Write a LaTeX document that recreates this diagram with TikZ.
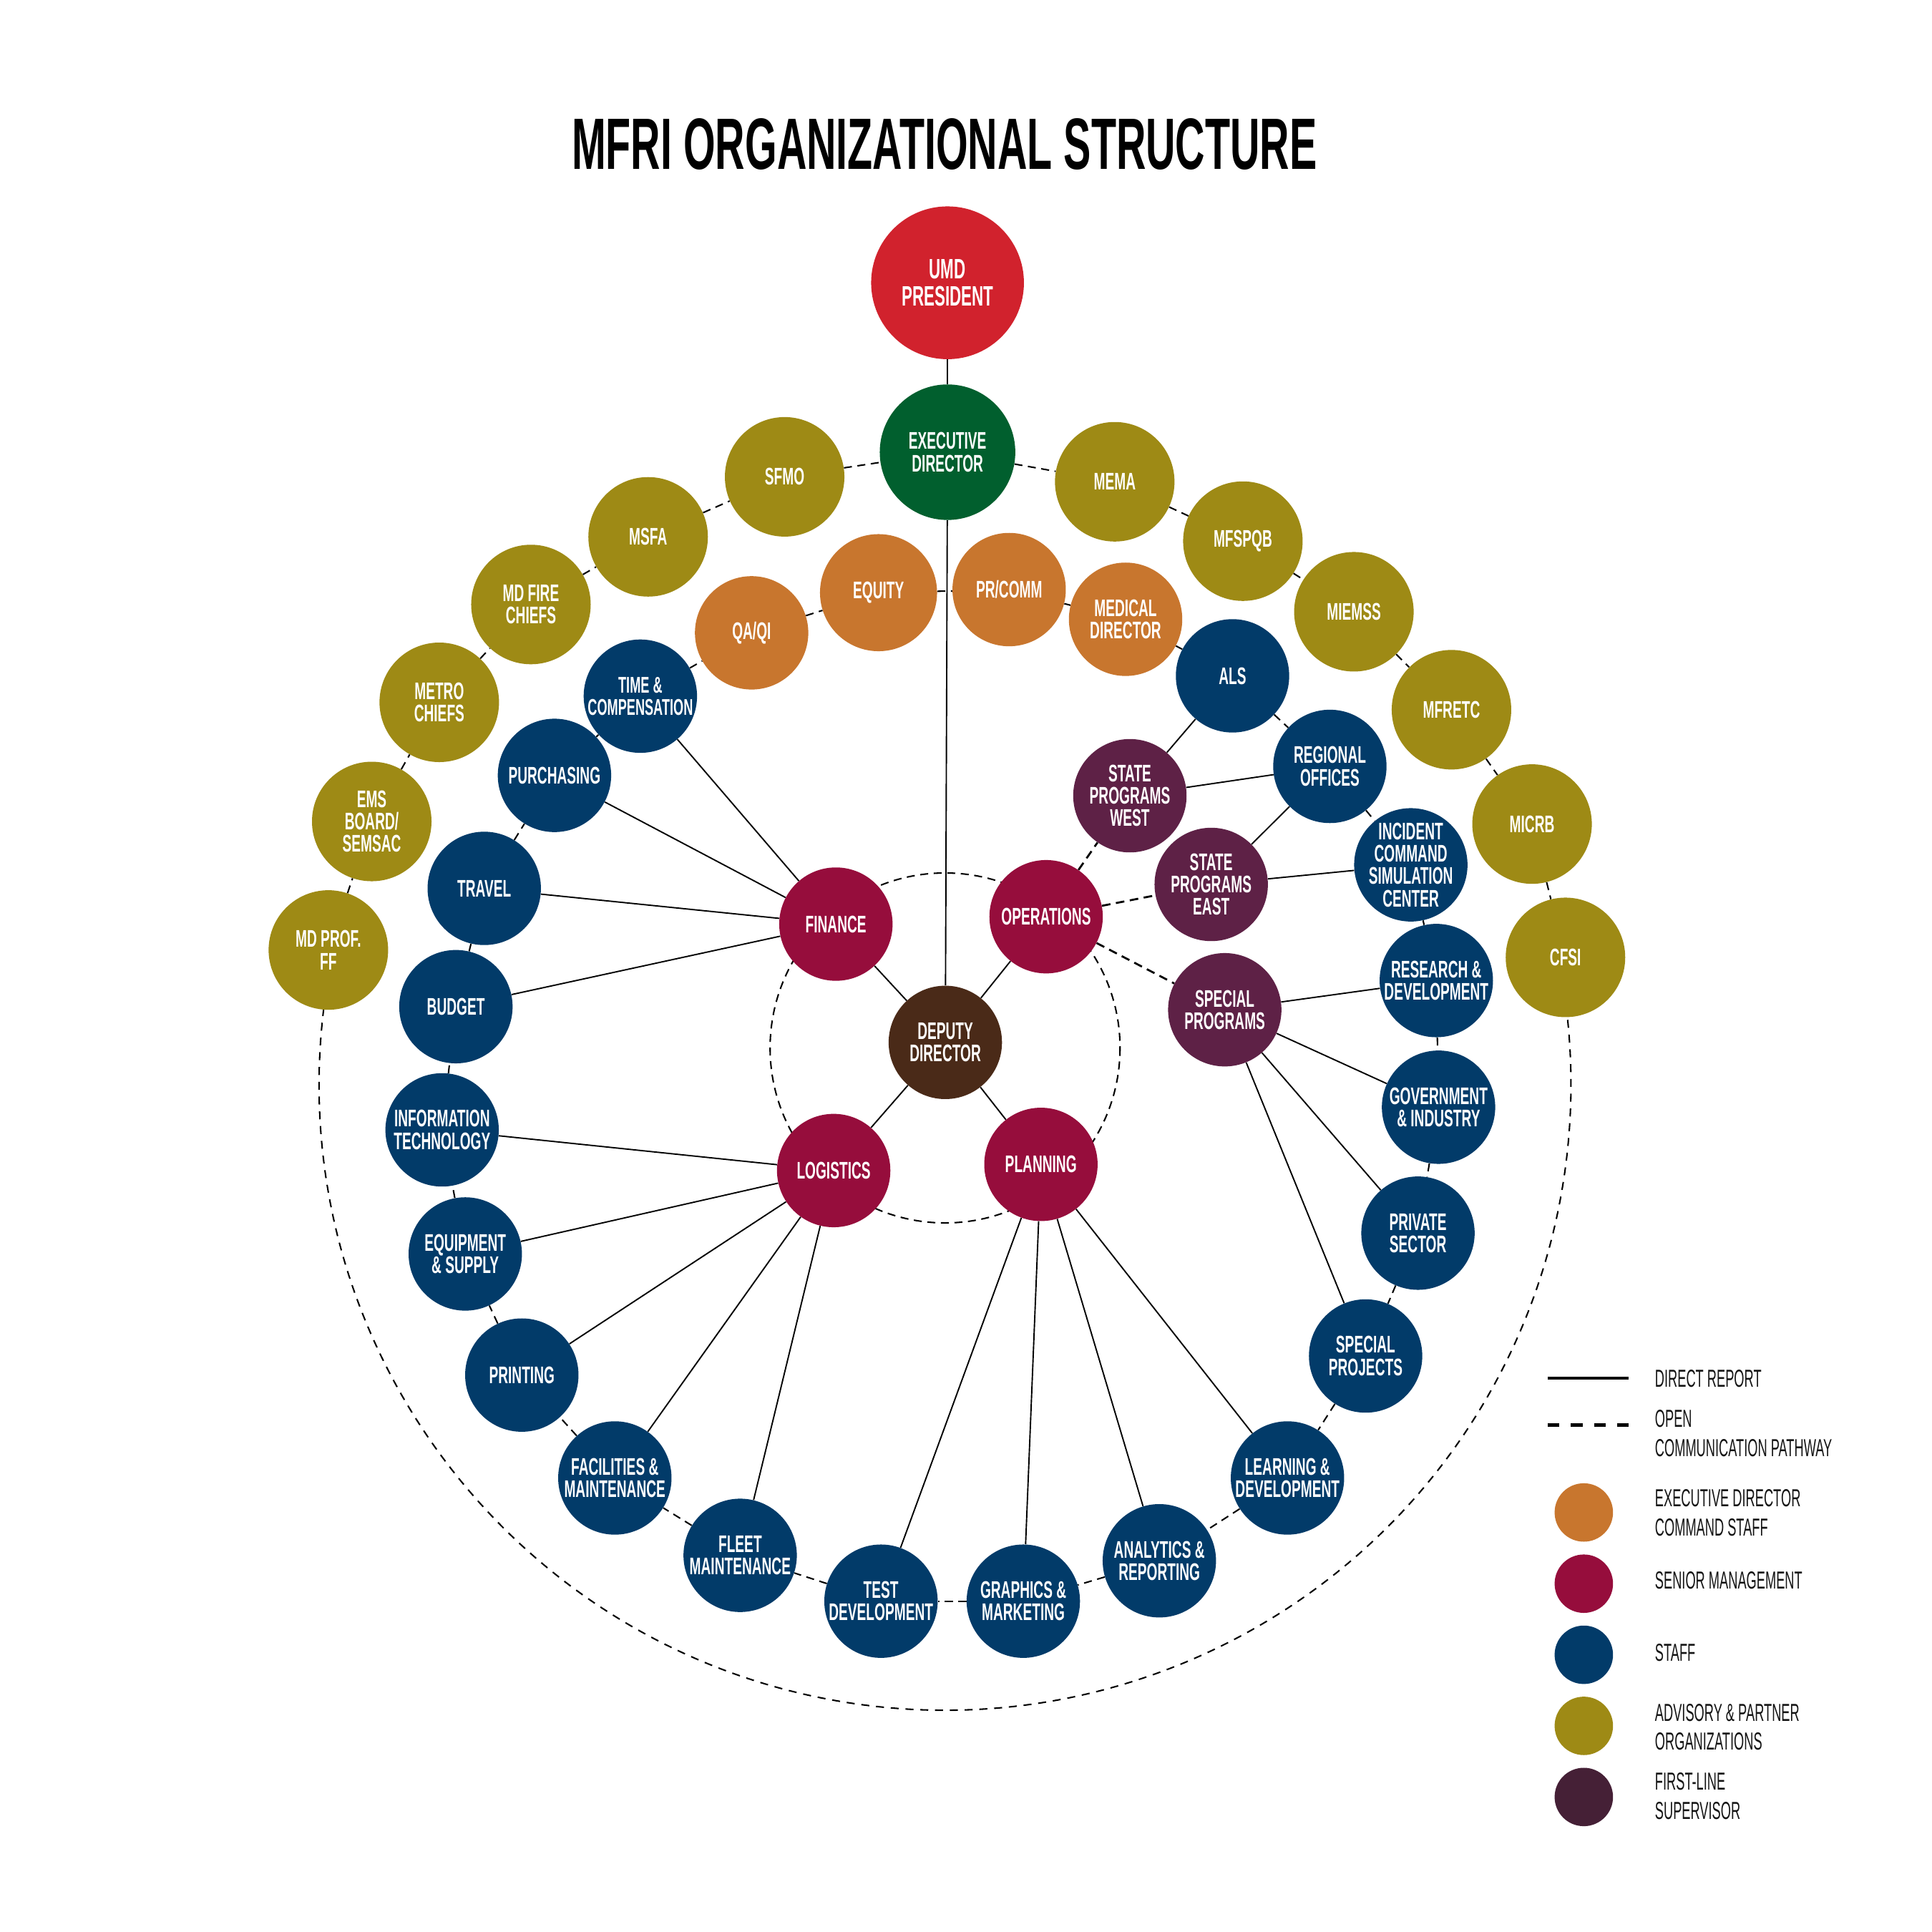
\documentclass[tikz,border=0pt]{standalone}
\usepackage{fontspec}
\usetikzlibrary{backgrounds}
\newfontfamily\nf{Liberation Sans}[FakeStretch=0.57]
\newfontfamily\tf{Liberation Sans}[FakeStretch=0.565]
\newfontfamily\lf{Liberation Sans}[FakeStretch=0.53]
\definecolor{cred}{HTML}{D1222D}
\definecolor{cgreen}{HTML}{015F2E}
\definecolor{colive}{HTML}{9E8A15}
\definecolor{corange}{HTML}{C8762E}
\definecolor{cblue}{HTML}{023B69}
\definecolor{ccrim}{HTML}{960D3C}
\definecolor{cplum}{HTML}{5E2146}
\definecolor{cplumdk}{HTML}{452036}
\definecolor{cbrown}{HTML}{4A2A18}
\newcommand\orgn[7][]{%
  \node[circ, fill=#3, minimum size=#4pt] (#2) at (#5,#6) {};
  \node[txt,#1] (#2-t) at (#2) {#7};}
\begin{document}
\begin{tikzpicture}[x=1pt,y=-1pt,
  circ/.style={circle, inner sep=0pt, draw=none},
  txt/.style={text=white, align=center, inner sep=0pt,
    font=\nf\bfseries\fontsize{19.5}{18.2}\selectfont},
  sline/.style={line width=1.1pt, black},
  dline/.style={line width=1.2pt, black, dash pattern=on 6.5pt off 4.5pt},
  oline/.style={line width=1.6pt, black, dash pattern=on 7pt off 4.5pt},
  legtxt/.style={anchor=base west, inner sep=0pt, text=black!92,
    font=\lf\fontsize{20}{24}\selectfont}]
\useasboundingbox (0,0) rectangle (1568,1568);

% title
\node[anchor=base, inner sep=0pt, font=\tf\bfseries\fontsize{59}{60}\selectfont] (title) at (766.5,137.4) {MFRI ORGANIZATIONAL STRUCTURE};

% top
\orgn[font=\nf\bfseries\fontsize{22.8}{22}\selectfont]{umd}{cred}{124}{769}{229.5}{UMD\\PRESIDENT}
\orgn{exec}{cgreen}{110}{769}{367}{EXECUTIVE\\DIRECTOR}

% advisory ring
\orgn{sfmo}{colive}{97}{636.8}{387}{SFMO}
\orgn{msfa}{colive}{97}{526}{435.7}{MSFA}
\orgn{mdfire}{colive}{97}{430.9}{490.6}{MD FIRE\\CHIEFS}
\orgn{metro}{colive}{97}{356.5}{570}{METRO\\CHIEFS}
\orgn{ems}{colive}{97}{301.7}{666.7}{EMS\\BOARD/\\SEMSAC}
\orgn{mdprof}{colive}{97}{266.5}{771}{MD PROF.\\FF}
\orgn{mema}{colive}{97}{904.7}{391}{MEMA}
\orgn{mfspqb}{colive}{97}{1008.7}{439.2}{MFSPQB}
\orgn{miemss}{colive}{97}{1098.8}{496.5}{MIEMSS}
\orgn{mfretc}{colive}{97}{1178}{576}{MFRETC}
\orgn{micrb}{colive}{97}{1243.4}{668.8}{MICRB}
\orgn{cfsi}{colive}{97}{1270.5}{777}{CFSI}

% command staff
\orgn{equity}{corange}{95}{713}{481}{EQUITY}
\orgn{prcomm}{corange}{92}{819}{478.5}{PR/COMM}
\orgn{qaqi}{corange}{92}{610}{513.6}{QA/QI}
\orgn{medical}{corange}{92}{913.5}{502.6}{MEDICAL\\DIRECTOR}

% staff ring
\orgn[font=\nf\bfseries\fontsize{18.5}{18}\selectfont]{time}{cblue}{92}{519.7}{565}{TIME \&\\COMPENSATION}
\orgn{purch}{cblue}{92}{450}{629.3}{PURCHASING}
\orgn{travel}{cblue}{92}{393}{721}{TRAVEL}
\orgn{budget}{cblue}{92}{370}{817}{BUDGET}
\orgn{info}{cblue}{92}{358.8}{917}{INFORMATION\\TECHNOLOGY}
\orgn{equip}{cblue}{92}{377.6}{1017.7}{EQUIPMENT\\\& SUPPLY}
\orgn{print}{cblue}{92}{423.5}{1116}{PRINTING}
\orgn{facil}{cblue}{92}{499}{1199.5}{FACILITIES \&\\MAINTENANCE}
\orgn{fleet}{cblue}{92}{600.7}{1262.3}{FLEET\\MAINTENANCE}
\orgn{test}{cblue}{92}{715}{1299.5}{TEST\\DEVELOPMENT}
\orgn{graph}{cblue}{92}{830.5}{1299.5}{GRAPHICS \&\\MARKETING}
\orgn{analy}{cblue}{92}{940.9}{1266.7}{ANALYTICS \&\\REPORTING}
\orgn{learn}{cblue}{92}{1044.9}{1199.5}{LEARNING \&\\DEVELOPMENT}
\orgn{spproj}{cblue}{92}{1108.3}{1100.5}{SPECIAL\\PROJECTS}
\orgn{private}{cblue}{92}{1150.8}{1000.8}{PRIVATE\\SECTOR}
\orgn{gov}{cblue}{92}{1167.5}{898.6}{GOVERNMENT\\\& INDUSTRY}
\orgn{research}{cblue}{92}{1165.7}{795.8}{RESEARCH \&\\DEVELOPMENT}
\orgn{incident}{cblue}{92}{1145}{701.9}{INCIDENT\\COMMAND\\SIMULATION\\CENTER}
\orgn{regional}{cblue}{92}{1079.3}{622}{REGIONAL\\OFFICES}
\orgn{als}{cblue}{92}{1000.3}{548.5}{ALS}

% first-line supervisors
\orgn{spw}{cplum}{92}{917}{645.8}{STATE\\PROGRAMS\\WEST}
\orgn{spe}{cplum}{92}{983}{717.8}{STATE\\PROGRAMS\\EAST}
\orgn{spprog}{cplum}{92}{994}{819.5}{SPECIAL\\PROGRAMS}

% senior management
\orgn{fin}{ccrim}{92}{678.4}{750}{FINANCE}
\orgn{ops}{ccrim}{92}{849}{744}{OPERATIONS}
\orgn{log}{ccrim}{92}{676.6}{950}{LOGISTICS}
\orgn{plan}{ccrim}{92}{844.8}{945}{PLANNING}
\orgn{dep}{cbrown}{92}{767.2}{846}{DEPUTY\\DIRECTOR}

% background: page, inner and outer dashed circles
\begin{scope}[on background layer]
  \fill[white] (0,0) rectangle (1568,1568);
  \draw[dline] (767,850.5) circle[radius=142];
  \draw[dline, dash pattern=on 6.5pt off 5.5pt] (767,880) ++(187:508) arc[start angle=187, end angle=-6.5, radius=508];
\end{scope}

% direct reports
\draw[sline] (umd) -- (exec);
\draw[sline] (exec) -- (dep);
\foreach \a in {fin,ops,log,plan} \draw[sline] (dep) -- (\a);
\foreach \a in {time,purch,travel,budget} \draw[sline] (fin) -- (\a);
\foreach \a in {info,equip,print,facil,fleet} \draw[sline] (log) -- (\a);
\foreach \a in {test,graph,analy,learn} \draw[sline] (plan) -- (\a);
\foreach \a in {research,gov,private,spproj} \draw[sline] (spprog) -- (\a);
\draw[sline] (spw) -- (als);
\draw[sline] (spw) -- (regional);
\draw[sline] (spe) -- (regional);
\draw[sline] (spe) -- (incident);

% open communication pathways
\foreach \a/\b in {mdprof/ems,ems/metro,metro/mdfire,mdfire/msfa,msfa/sfmo,sfmo/exec,exec/mema,mema/mfspqb,mfspqb/miemss,miemss/mfretc,mfretc/micrb,micrb/cfsi,
  time/qaqi,qaqi/equity,equity/prcomm,prcomm/medical,medical/als,als/regional,regional/incident,incident/research,research/gov,gov/private,private/spproj,spproj/learn,learn/analy,analy/graph,graph/test,test/fleet,fleet/facil,facil/print,print/equip,equip/info,info/budget,budget/travel,travel/purch,purch/time}
  \draw[dline] (\a) -- (\b);
\foreach \a in {spw,spe,spprog} \draw[oline] (ops) -- (\a);

% legend
\coordinate (l1a) at (1256,1118.5);
\coordinate (l1b) at (1322,1118.5);
\coordinate (l2a) at (1256,1156.6);
\coordinate (l2b) at (1322,1156.6);
\draw[line width=2.6pt] (l1a) -- (l1b);
\draw[line width=2.6pt, dash pattern=on 9.7pt off 9.1pt] (l2a) -- (l2b);
\node[circ, fill=corange, minimum size=47.4pt] (lg1) at (1285.4,1227.5) {};
\node[circ, fill=ccrim, minimum size=47.4pt] (lg2) at (1285.4,1285.3) {};
\node[circ, fill=cblue, minimum size=47.4pt] (lg3) at (1285.4,1343) {};
\node[circ, fill=colive, minimum size=47.4pt] (lg4) at (1285.4,1400.7) {};
\node[circ, fill=cplumdk, minimum size=47.4pt] (lg5) at (1285.4,1458.4) {};
\node[legtxt] (lt1) at (1343,1125.5) {DIRECT REPORT};
\node[legtxt] (lt2) at (1343,1158) {OPEN};
\node[legtxt] (lt3) at (1343,1182) {COMMUNICATION PATHWAY};
\node[legtxt] (lt4) at (1343,1222.7) {EXECUTIVE DIRECTOR};
\node[legtxt] (lt5) at (1343,1246.7) {COMMAND STAFF};
\node[legtxt] (lt6) at (1343,1289.6) {SENIOR MANAGEMENT};
\node[legtxt] (lt7) at (1343,1347.9) {STAFF};
\node[legtxt] (lt8) at (1343,1396.9) {ADVISORY \& PARTNER};
\node[legtxt] (lt9) at (1343,1420.4) {ORGANIZATIONS};
\node[legtxt] (lt10) at (1343,1452.5) {FIRST-LINE};
\node[legtxt] (lt11) at (1343,1476.7) {SUPERVISOR};
\end{tikzpicture}
\end{document}
